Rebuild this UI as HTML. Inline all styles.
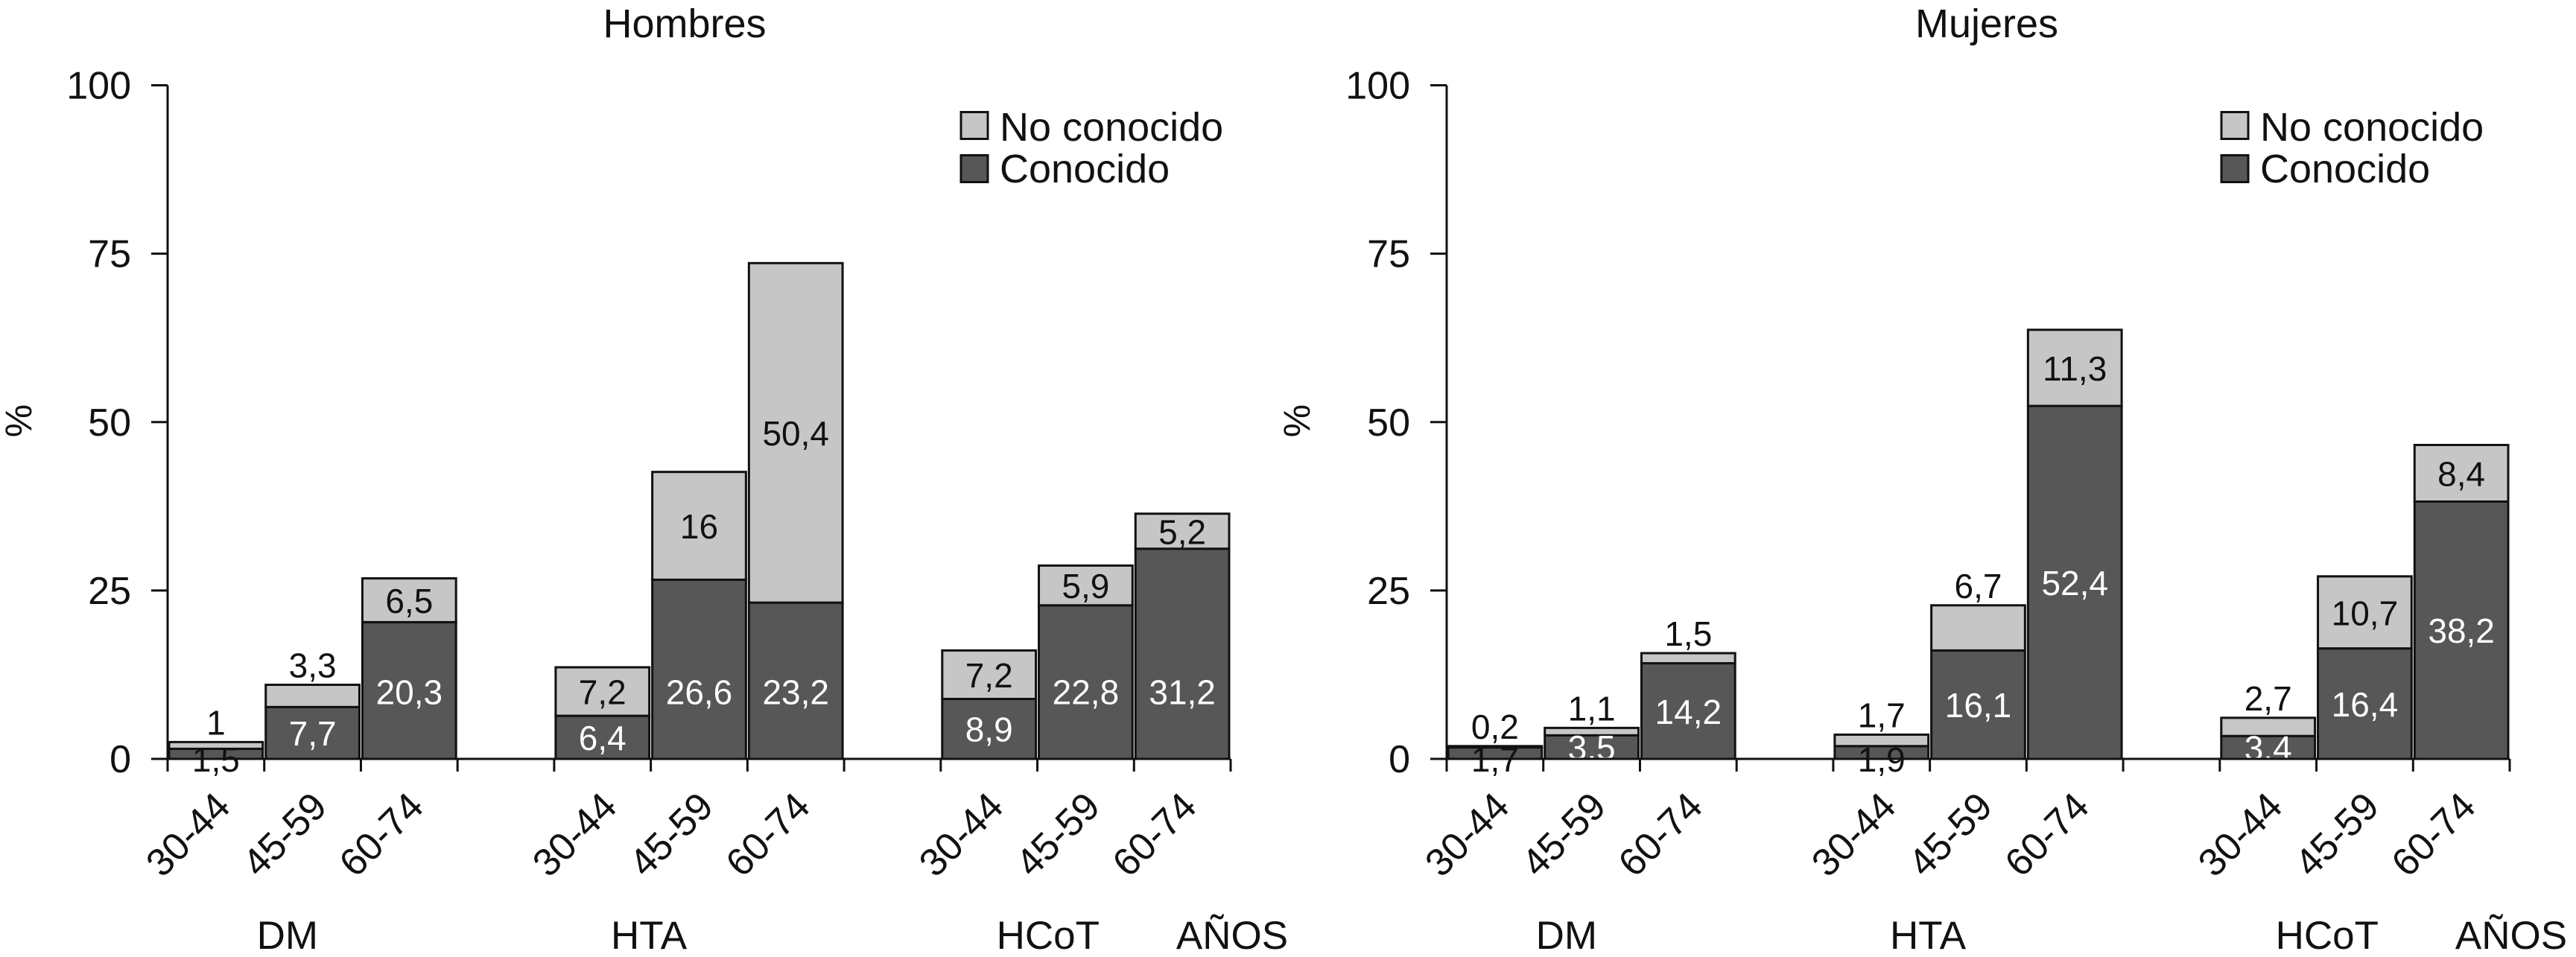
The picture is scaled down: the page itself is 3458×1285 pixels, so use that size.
<!DOCTYPE html>
<html><head><meta charset="utf-8"><style>
html,body{margin:0;padding:0;background:#fff;}
svg{display:block;font-family:"Liberation Sans",Arial,sans-serif;}
</style></head><body>
<svg id="chart" width="3458" height="1285" viewBox="0 0 3458 1285" xmlns="http://www.w3.org/2000/svg"></svg>
<script>
const ageGroups = ["30-44","45-59","60-74"];
const conditions = ["DM","HTA","HCoT"];
const yTicks = [0,25,50,75,100];
const menKnown = [1.5,7.7,20.3,6.4,26.6,23.2,8.9,22.8,31.2];
const menUnknown = [1,3.3,6.5,7.2,16,50.4,7.2,5.9,5.2];
const womenKnown = [1.7,3.5,14.2,1.9,16.1,52.4,3.4,16.4,38.2];
const womenUnknown = [0.2,1.1,1.5,1.7,6.7,11.3,2.7,10.7,8.4];
const menKnownLabels = ["1,5","7,7","20,3","6,4","26,6","23,2","8,9","22,8","31,2"];
const menUnknownLabels = ["1","3,3","6,5","7,2","16","50,4","7,2","5,9","5,2"];
const womenKnownLabels = ["1,7","3,5","14,2","1,9","16,1","52,4","3,4","16,4","38,2"];
const womenUnknownLabels = ["0,2","1,1","1,5","1,7","6,7","11,3","2,7","10,7","8,4"];

const NS="http://www.w3.org/2000/svg";
const svg=document.getElementById('chart');
function mk(tag,attrs,parent){const e=document.createElementNS(NS,tag);for(const k in attrs)e.setAttribute(k,attrs[k]);(parent||svg).appendChild(e);return e;}

function panel(cfg){
  const g=mk('g',{});
  
  
  const x0=cfg.x0, x1=cfg.x0+1427, yZero=1019, yTop=114.5;
  const band=(x1-x0)/11;
  const y=v=>yZero-(v/100)*(yZero-yTop);
  const bandStart=i=>{const grp=Math.floor(i/3);return x0+(i+grp)*band;};
  const t=mk('text',{x:cfg.titleX,y:50,'font-size':54,'text-anchor':'middle',fill:'#111'},g);t.textContent=cfg.title;
  
  
  const yt=mk('text',{x:0,y:0,'font-size':50,'text-anchor':'middle',fill:'#111',transform:`translate(${cfg.pctX},565) rotate(-90)`},g);yt.textContent='%';
  
  
  for(let i=0;i<9;i++){
    const bx=bandStart(i)+2, bw=band-4;
    const k=cfg.known[i], u=cfg.unknown[i];
    const r1=mk('rect',{x:bx,y:y(k),width:bw,height:yZero-y(k),fill:'#575757',stroke:'#111','stroke-width':3},g);
    
    
    const r2=mk('rect',{x:bx,y:y(k+u),width:bw,height:y(k)-y(k+u),fill:'#c6c6c6',stroke:'#111','stroke-width':3},g);
    
    
    const cx=bx+bw/2;
    let ky, kfill='#fff';
    if(k<2.5){ky=yZero+17;kfill='#111';}
    else if(k>35) ky=y(k/2)+17;
    else ky=y(Math.min(k/2,10))+17;
    const kl=mk('text',{x:cx,y:ky,'font-size':46,'text-anchor':'middle',fill:kfill},g);kl.textContent=cfg.knownLabels[i];
    
    
    let uy;
    if(u>=5 && !(u<7 && k<20 && cfg.name==='panel-mujeres')) uy=y(k+u/2)+17; else uy=y(k+u)-10;
    const ul=mk('text',{x:cx,y:uy,'font-size':46,'text-anchor':'middle',fill:'#111'},g);ul.textContent=cfg.unknownLabels[i];
    
    
  }
  const ya=mk('line',{x1:x0,y1:yTop,x2:x0,y2:yZero,stroke:'#111','stroke-width':3},g);
  
  
  const xa=mk('line',{x1:x0-22,y1:yZero,x2:x1,y2:yZero,stroke:'#111','stroke-width':3},g);
  
  
  yTicks.forEach(v=>{
    mk('line',{x1:x0-22,y1:y(v),x2:x0,y2:y(v),stroke:'#111','stroke-width':3},g);
    const tl=mk('text',{x:x0-49,y:y(v)+18,'font-size':52,'text-anchor':'end',fill:'#111'},g);tl.textContent=v;
    
    
  });
  for(let b=0;b<=11;b++){mk('line',{x1:x0+b*band,y1:yZero,x2:x0+b*band,y2:yZero+17,stroke:'#111','stroke-width':3},g);}
  for(let i=0;i<9;i++){
    const cx=bandStart(i)+band/2+22;
    const xl=mk('text',{x:0,y:0,'font-size':52,'text-anchor':'end',fill:'#111',transform:`translate(${cx},1086) rotate(-45)`},g);xl.textContent=ageGroups[i%3];
    
    
  }
  const gx=[x0+1.24*band, x0+4.98*band, x0+9.11*band];
  conditions.forEach((c,j)=>{
    const gl=mk('text',{x:gx[j],y:1274,'font-size':53,'text-anchor':'middle',fill:'#111'},g);gl.textContent=c;
    
    
  });
  const an=mk('text',{x:x0+1429,y:1274,'font-size':53,'text-anchor':'middle',fill:'#111'},g);an.textContent='AÑOS';
  
  
  const lg=mk('g',{},g);
  
  
  [['No conocido','#c6c6c6',149,189],['Conocido','#575757',207,245]].forEach(([lab,col,by,ty])=>{
    mk('rect',{x:cfg.legX,y:by+1.5,width:36,height:36,fill:col,stroke:'#111','stroke-width':3},lg);
    const lt=mk('text',{x:cfg.legX+52,y:ty,'font-size':54,fill:'#111'},lg);lt.textContent=lab;
    
    
  });
}
panel({name:'panel-hombres',title:'Hombres',titleX:919,x0:225,pctX:42,legX:1290,known:menKnown,unknown:menUnknown,knownLabels:menKnownLabels,unknownLabels:menUnknownLabels});
panel({name:'panel-mujeres',title:'Mujeres',titleX:2667,x0:1942,pctX:1758,legX:2982,known:womenKnown,unknown:womenUnknown,knownLabels:womenKnownLabels,unknownLabels:womenUnknownLabels});
</script>
</body></html>
